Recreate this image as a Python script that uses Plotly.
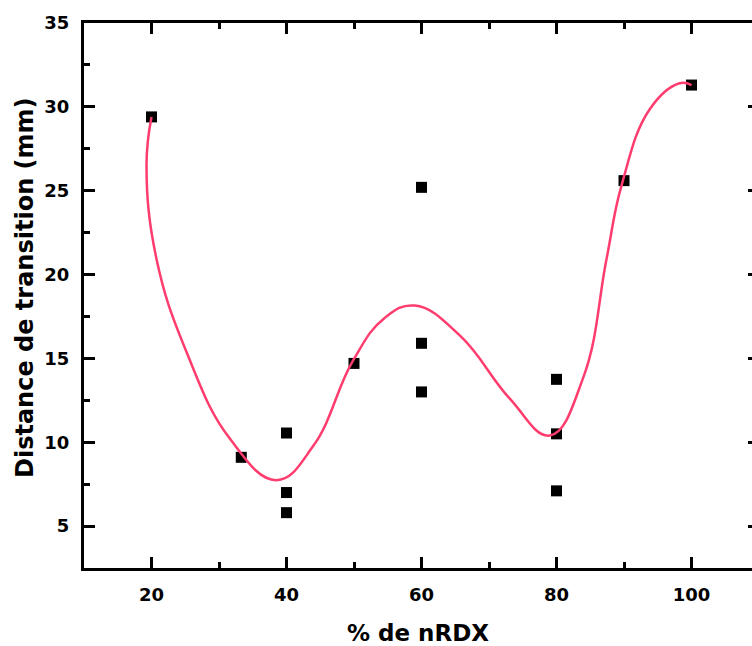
import plotly.graph_objects as go

# measured data points
pct_rdx = [20, 33.3, 40, 40, 40, 50, 60, 60, 60, 80, 80, 80, 90, 100]
distance = [29.4, 9.1, 10.55, 7.0, 5.8, 14.7, 25.2, 15.9, 13.0, 13.75, 10.5, 7.1, 25.6, 31.3]

# smooth fitted curve, key points
curve_x = [20.0, 19.26, 20.74, 25.19, 31.60, 38.52, 44.0, 49.87, 54.5, 59.01,
           65.67, 73.08, 79.01, 84.0, 87.41, 89.63, 93.81, 98.22, 100.0]
curve_y = [29.4, 26.49, 20.93, 15.38, 10.22, 7.74, 9.8, 14.88, 17.4, 18.15,
           16.37, 12.60, 10.40, 13.9, 20.93, 25.30, 29.86, 31.41, 31.3]

x_ticks = [20, 40, 60, 80, 100]
y_ticks = [5, 10, 15, 20, 25, 30, 35]

FONT = "DejaVu Sans"
W, H = 752, 646
L, T, B = 84, 23, 568

fig = go.Figure()
fig.add_trace(go.Scatter(x=pct_rdx, y=distance, mode="markers",
                         marker=dict(symbol="square", size=11, color="black"),
                         showlegend=False))
fig.add_trace(go.Scatter(x=curve_x, y=curve_y, mode="lines",
                         line=dict(color="#ff3c6e", width=2.5, shape="spline", smoothing=1.2),
                         showlegend=False))
fig.add_trace(go.Scatter(x=[None], y=[None], yaxis="y2", showlegend=False))

yr = [2.5, 35]
tickfont = dict(family=FONT, size=18, color="black", weight="bold")
fig.update_layout(
    width=W, height=H,
    margin=dict(l=0, r=0, t=0, b=0, autoexpand=False),
    paper_bgcolor="white", plot_bgcolor="white",
    font=dict(family=FONT, color="black"),
    xaxis=dict(domain=[L / W, 1], range=[10, 10 + (W - L) / 6.75], automargin=False,
               tickvals=x_ticks, ticks="inside", ticklen=11, tickwidth=2.5,
               tickcolor="black", showline=True, linewidth=3, linecolor="black",
               mirror="ticks", showgrid=False, zeroline=False,
               tickfont=tickfont, ticklabelstandoff=8,
               minor=dict(dtick=10, tick0=0, ticks="inside", ticklen=6, tickwidth=2.5,
                          tickcolor="black", showgrid=False)),
    yaxis=dict(domain=[1 - B / H, 1 - T / H], range=yr, automargin=False,
               tickvals=y_ticks, ticks="inside", ticklen=11, tickwidth=2.5,
               tickcolor="black", showline=True, linewidth=3, linecolor="black",
               mirror=False, showgrid=False, zeroline=False,
               tickfont=tickfont, ticklabelstandoff=8,
               minor=dict(dtick=2.5, tick0=0, ticks="inside", ticklen=6, tickwidth=2.5,
                          tickcolor="black", showgrid=False)),
    yaxis2=dict(overlaying="y", side="right", range=yr, tickvals=y_ticks, automargin=False,
                ticks="inside", ticklen=4, tickwidth=2.5, tickcolor="black",
                showticklabels=False, showline=False, showgrid=False, zeroline=False),
    annotations=[
        dict(text="<b>% de nRDX</b>", xref="paper", yref="paper",
             x=418 / W, y=1 - 633 / H, xanchor="center", yanchor="middle",
             showarrow=False, font=dict(family=FONT, size=23, color="black")),
        dict(text="<b>Distance de transition (mm)</b>", xref="paper", yref="paper",
             x=25 / W, y=1 - 288 / H, xanchor="center", yanchor="middle", textangle=-90,
             showarrow=False, font=dict(family=FONT, size=24, color="black")),
    ],
)

fig.write_html("out.html", config={"displayModeBar": False},
               post_script="document.body.style.margin='0';document.body.style.overflow='hidden';")
